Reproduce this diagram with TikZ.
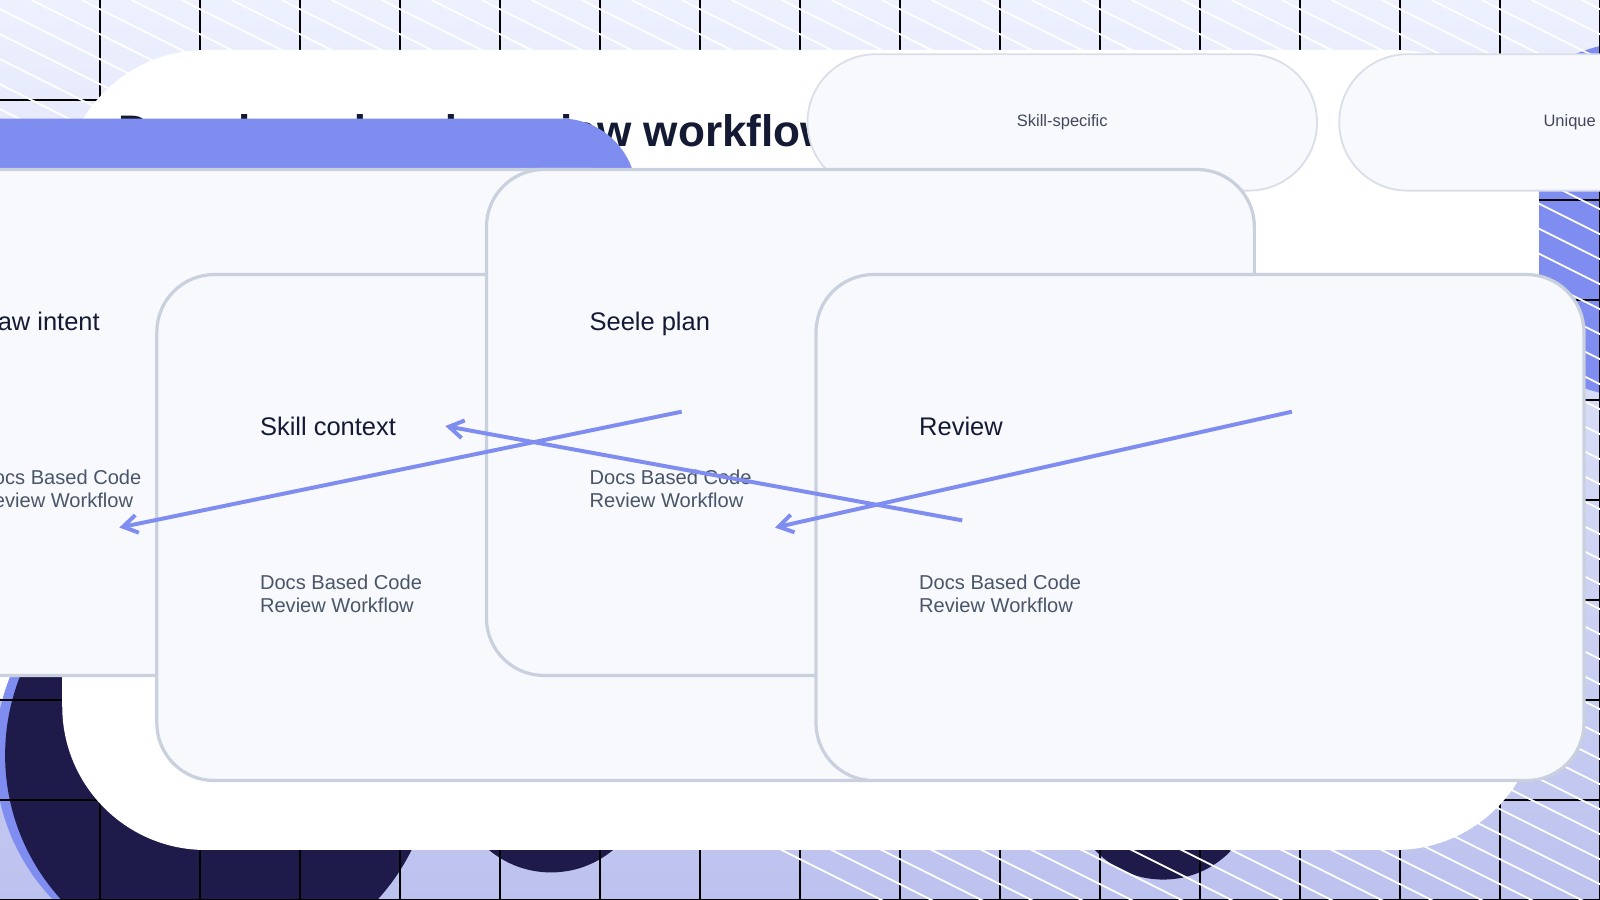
\documentclass[tikz,border=0pt]{standalone}
\usepackage{fontspec}
\setmainfont{Liberation Sans}
\usetikzlibrary{positioning,arrows.meta}
\definecolor{ink}{HTML}{141A33}
\definecolor{navy}{HTML}{1E1B4B}
\definecolor{peri}{HTML}{7F8CF0}
\definecolor{bgtop}{HTML}{EDF0FD}
\definecolor{bgbot}{HTML}{BCC2EE}
\definecolor{boxline}{HTML}{C9D0DE}
\definecolor{boxfill}{HTML}{F7F9FC}
\definecolor{subtxt}{HTML}{4A5568}
\tikzset{
  stage/.style={draw=boxline,line width=0.9pt,fill=boxfill,rounded corners=16,
    minimum width=214,minimum height=141,inner sep=0pt},
  chip/.style={draw=boxline!70,line width=0.5pt,fill=boxfill,rounded corners=19,
    minimum width=142,minimum height=38,inner sep=0pt,font=\fontsize{4.6}{5}\selectfont,text=ink!80},
  flow/.style={-{Straight Barb[length=4pt,width=5pt]},draw=peri,line width=1.1pt}
}
\begin{document}
\begin{tikzpicture}[x=0.01cm,y=-0.01cm]
\useasboundingbox (0,0) rectangle (1568,882);
\begin{scope}
  \clip (0,0) rectangle (1568,882);
  \shade[top color=bgtop,bottom color=bgbot] (0,0) rectangle (1568,882);
  \fill[peri] (1610,215) circle (175);
  \fill[white] (60,610) circle (95);
  \fill[navy] (540,760) circle (95);
  \fill[navy] (1140,770) circle (92);
  \fill[peri] (200,740) circle (205);
  \fill[navy] (215,740) circle (210);
  \foreach \x in {98,196,...,1568} \draw[black,line width=0.4pt] (\x,0) -- (\x,882);
  \foreach \y in {98,196,...,882} \draw[black,line width=0.4pt] (0,\y) -- (1568,\y);
  \foreach \k in {-900,-802,...,1568}
    \draw[white,line width=0.5pt] (\k,0) -- ++(1800,900);
  \foreach \k in {-851,-753,...,1568}
    \draw[white,line width=0.5pt] (\k,0) -- ++(1800,900);
\end{scope}
% card
\fill[white,rounded corners=40] (61,49) rectangle (1508,833);
\node[anchor=west,font=\bfseries\fontsize{12.3}{14}\selectfont,text=ink] (title) at (104,128) {Docs based code review workflow};
\node[fill=peri,rounded corners=21,minimum width=229,minimum height=42,inner sep=0pt,
  font=\fontsize{5.6}{6}\selectfont,text=ink] (pill) at (221,190) {Visual 01 $\cdot$ Intent};
\node[chip] (c1) at (1041,120) {Skill-specific};
\node[chip,right=20 of c1] (c2) {Unique layout};
\node[chip,right=20 of c2] (c3) {No cache reuse};
% stages
\foreach \n/\cx/\cy/\t in {raw/255/414/Raw intent,skill/530/517/Skill context,plan/853/414/Seele plan,rev/1176/517/Review}{
  \node[stage] (\n) at (\cx,\cy) {};
  \node[anchor=north west,inner sep=0pt,font=\fontsize{7.1}{8}\selectfont,text=ink] at ([xshift=29,yshift=-40]\n.north west) {\t};
  \node[anchor=north west,inner sep=0pt,align=left,font=\fontsize{5.6}{6.4}\selectfont,text=subtxt]
    at ([xshift=29,yshift=-84]\n.north west) {Docs Based Code\\Review Workflow};
}
\coordinate (a1) at ([xshift=10,yshift=3]raw.east);
\coordinate (b1) at ([xshift=-10]skill.west);
\coordinate (a2) at ([xshift=10,yshift=2]skill.east);
\coordinate (b2) at ([xshift=-11,yshift=-1]plan.west);
\coordinate (a3) at ([xshift=10,yshift=3]plan.east);
\coordinate (b3) at ([xshift=-11]rev.west);
\draw[flow] (a1) -- (b1);
\draw[flow] (a2) -- (b2);
\draw[flow] (a3) -- (b3);
\end{tikzpicture}
\end{document}
